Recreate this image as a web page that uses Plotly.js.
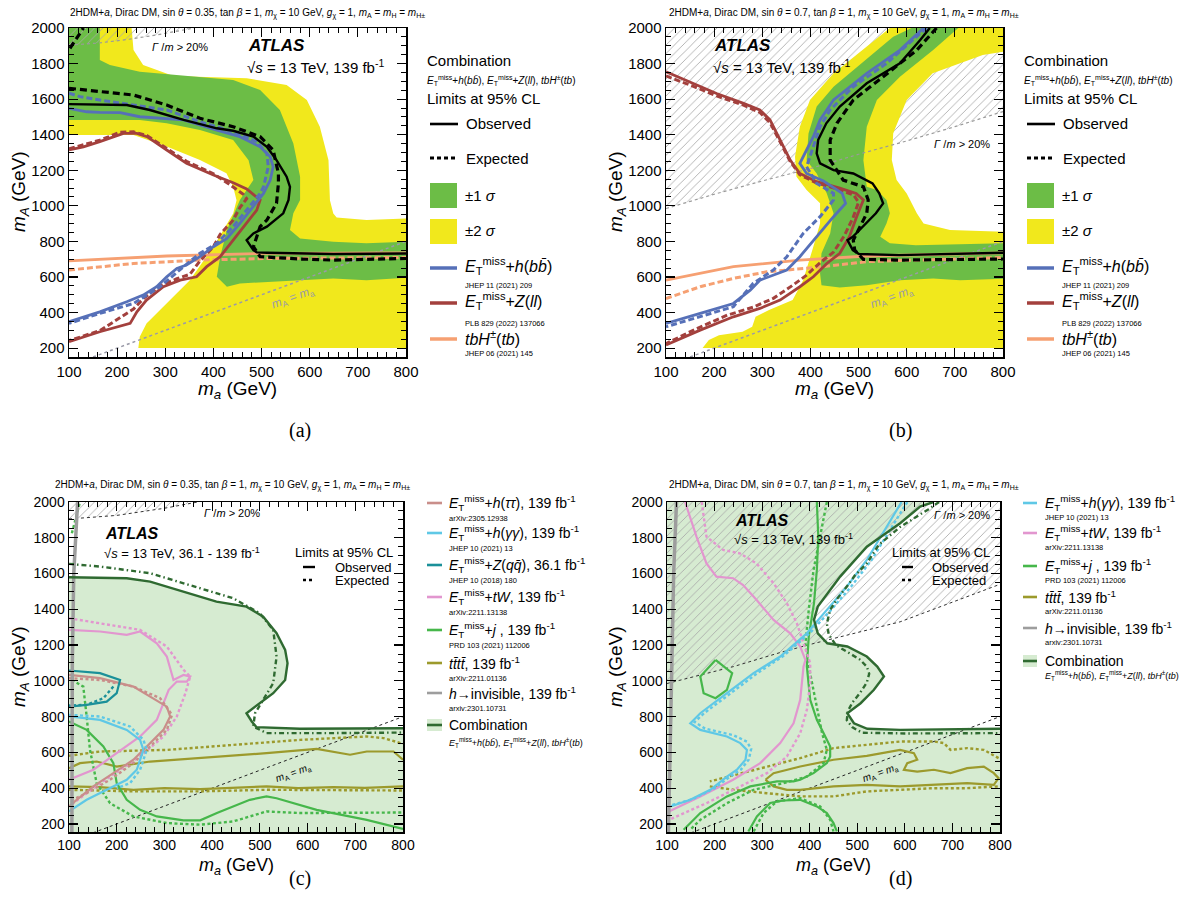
<!DOCTYPE html>
<html><head><meta charset="utf-8">
<script src="https://cdn.plot.ly/plotly-3.0.1.min.js"></script>
<style>html,body{margin:0;padding:0;background:#fff}#chart{width:1199px;height:914px}</style>
</head><body><div id="chart"></div>
<script>
// ---------------- DATA (m_a, m_A in GeV) ----------------
// Panel (a): sin theta = 0.35
const aBand2Ma=[100,230,234,254,317,469,552,594,621,639,642,649,656,718,800,800,244,247,261,289,351,400,441,448,441,427,372,303,234,100];
const aBand2MA=[2000,2000,1876,1792,1730,1717,1680,1595,1445,1257,1032,957,935,920,929,200,200,264,339,414,582,770,957,1032,1108,1183,1258,1333,1398,1398];
const aBand1Ma=[100,164,164,185,247,372,441,497,538,566,580,580,566,559,580,649,718,800,800,718,649,580,455,428,407,414,428,455,483,473,441,372,303,247,100];
const aBand1MA=[2000,2000,1820,1792,1754,1726,1707,1651,1539,1351,1164,1033,958,864,817,798,789,798,595,582,592,582,564,545,601,714,864,1033,1145,1257,1370,1426,1464,1483,1483];
const aWidthMa=[100,160,220,280,340,360,100];
const aWidthMA=[1904,1915,1935,1960,1990,2000,2000];
const aObsMa=[100,220,268,338,407,441,483,511,531,552,559,556,545,511,483,469,483,490,511,649,800];
const aObsMA=[1572,1567,1539,1483,1436,1422,1389,1332,1257,1164,1107,1033,958,883,845,807,751,738,736,729,732];
const aExpMa=[100,164,234,303,372,441,497,524,535,535,531,511,497,483,497,580,649,800];
const aExpMA=[1661,1642,1623,1567,1492,1445,1389,1314,1182,1126,1014,920,883,770,714,701,695,704];
const aExpTopMa=[102,130], aExpTopMA=[1886,2000];
const aBbObsMa=[100,137,164,206,247,338,407,455,497,518,524,518,504,483,455,428,400,372,344,324,303,282,254,220,164,100];
const aBbObsMA=[1548,1529,1526,1524,1501,1483,1426,1389,1332,1276,1220,1145,1070,995,901,817,770,714,667,648,601,545,498,461,404,348];
const aBbExpMa=[100,123,164,234,303,372,441,490,511,514,504,497,469,441,407,372,338,289,234,164,100];
const aBbExpMA=[1633,1614,1595,1567,1539,1473,1417,1361,1295,1220,1107,1070,976,883,789,733,658,545,451,395,339];
const aZllObsMa=[100,130,164,213,241,262,303,344,400,441,469,497,490,462,441,414,386,365,331,296,261,241,227,164,100];
const aZllObsMA=[1314,1332,1361,1407,1407,1389,1314,1239,1173,1130,1095,1033,976,883,807,714,658,601,582,545,470,404,339,292,236];
const aZllExpMa=[100,164,206,234,262,303,344,400,434,462,469,455,441,414,400,372,351,324,289,255,234,164,100];
const aZllExpMA=[1321,1369,1414,1416,1395,1322,1250,1180,1120,1065,1040,990,920,840,770,690,615,590,550,480,420,298,242];
const aTbObsMa=[100,303,511,800], aTbObsMA=[691,718,733,736];
const aTbExpMa=[100,234,372,511,800], aTbExpMA=[639,676,695,704,710];
const diagMa=[150,800], diagMA=[150,800];

// Panel (b): sin theta = 0.7
const bBand2Ma=[565,800,800,758,654,600,572,569,579,600,621,635,690,800,800,176,189,210,259,279,286,314,363,385,406,420,420,392,371,368,378,399,448,517,565];
const bBand2MA=[2000,2000,1867,1848,1745,1595,1408,1258,1145,1070,958,901,864,854,200,200,245,273,292,320,376,414,470,582,770,901,1014,1089,1164,1276,1445,1595,1745,1895,2000];
const bBand1Ma=[610,707,655,586,538,517,510,517,538,558,565,558,545,565,619,800,800,711,655,586,517,461,423,420,423,441,448,434,413,392,396,413,448,517,572,610];
const bBand1MA=[2000,2000,1876,1726,1595,1445,1257,1107,1089,1033,958,901,826,789,779,790,590,582,592,582,554,541,554,620,733,845,958,1070,1182,1257,1407,1558,1670,1829,1951,2000];
const bWidthMa=[100,200,300,400,500,600,700,800];
const bWidthMA=[985,1065,1140,1210,1290,1365,1445,1530];
const bObsMa=[648,628,586,517,461,433,416,413,420,448,489,517,529,543,551,536,508,488,477,488,501,584,800];
const bObsMA=[2000,1933,1801,1689,1558,1464,1370,1295,1239,1201,1182,1145,1126,1070,1014,958,883,826,807,751,729,723,736];
const bExpMa=[662,621,551,489,455,441,441,468,510,520,517,503,489,492,510,586,800];
const bExpMA=[2000,1876,1726,1595,1464,1370,1257,1145,1107,1033,958,883,807,751,699,695,701];
const bBbObsMa=[635,586,517,448,420,406,392,378,392,427,466,473,448,413,378,351,295,275,240,171,100];
const bBbObsMA=[2000,1876,1745,1595,1483,1389,1314,1239,1182,1140,1070,1014,939,826,714,639,582,526,451,395,339];
const bBbExpMa=[642,628,558,489,441,420,406,392,413,448,448,420,385,351,323,281,240,171,100];
const bBbExpMA=[2000,1970,1801,1670,1539,1445,1333,1220,1126,1070,1033,939,845,714,639,564,433,376,320];
const bZllObsMa=[100,157,205,261,295,316,337,358,378,413,461,495,510,496,481,461,434,406,378,337,295,240,171,100];
const bZllObsMA=[1754,1689,1632,1576,1539,1483,1370,1257,1182,1136,1100,1070,1033,939,826,733,676,601,545,470,423,376,301,217];
const bZllExpMa=[100,157,205,261,295,316,337,358,378,413,455,490,500,488,470,448,420,392,364,323,281,227,164,100];
const bZllExpMA=[1730,1672,1618,1566,1525,1468,1360,1250,1175,1128,1095,1060,1020,930,830,740,680,610,555,480,430,385,310,225];
const bTbObsMa=[100,171,240,378,517,800], bTbObsMA=[582,620,658,695,718,736];
const bTbExpMa=[100,171,240,309,413,517,800], bTbExpMA=[479,545,592,629,654,686,710];

// Panel (c): sin theta = 0.35, other searches
const cObsMa=[100,221,270,340,409,472,507,535,553,558,553,528,500,472,483,493,584,800];
const cObsMA=[1579,1574,1555,1499,1443,1415,1359,1266,1173,1099,1005,931,875,819,773,741,732,735];
const cExpMa=[100,165,270,375,444,500,528,535,528,507,490,486,514,654,800];
const cExpMA=[1654,1639,1602,1518,1462,1378,1285,1136,987,894,819,745,708,708,711];
const cWidthMa=[100,200,300,370,100], cWidthMA=[1905,1925,1965,2000,2000];
const cHinvMa=[118,110,107,106], cHinvMA=[2000,1600,1100,155];
const cTauObsMa=[100,165,235,270,305,312,298,263,235,193,151,116,100];
const cTauObsMA=[1033,1015,968,912,856,801,726,633,559,484,410,335,298];
const cTauExpMa=[100,165,235,291,316,305,270,235,186,137,100];
const cTauExpMA=[1015,1005,968,903,810,726,633,540,447,372,326];
const cGamObsMa=[100,165,221,249,256,242,221,193,165,137,100];
const cGamObsMA=[801,782,726,670,614,503,447,410,372,335,270];
const cGamExpMa=[100,165,228,256,263,249,228,200];
const cGamExpMA=[810,801,745,670,614,503,428,400];
const cZqqObsMa=[100,165,207,200,179,137,100];
const cZqqObsMA=[1058,1043,1005,931,884,866,856];
const cZqqExpMa=[193,172,137,100], cZqqExpMA=[968,903,866,862];
const cTwObsMa=[100,165,221,249,284,305,319,340,354,347,326,309,298,284,249,200,151,100];
const cTwObsMA=[1285,1276,1257,1276,1210,1136,1005,1033,1024,996,996,950,875,782,689,596,503,447];
const cTwExpMa=[100,165,249,305,340,354,344,326,298,249,186,137,100];
const cTwExpMA=[1350,1322,1285,1192,1062,1024,931,801,689,577,465,372,298];
const cJetObsMa=[100,137,172,193,200,221,249,284,340,375,410,479,514,535,619,724,800];
const cJetObsMA=[773,726,633,540,428,335,279,242,220,220,261,335,354,344,279,223,172];
const cJetExpMa=[106,130,137,144,158,186,235,305,375,444,514,584,800];
const cJetExpMA=[1005,968,801,614,428,316,242,205,196,214,270,261,264];
const cJetExpTopMa=[106,123], cJetExpTopMA=[1825,2000];
const cTtUpObsMa=[100,123,158,200,270,375,514,619,689,724,780,800];
const cTtUpObsMA=[512,540,549,521,549,568,596,620,587,605,605,559];
const cTtLoObsMa=[100,165,235,300,375,450,514,580,654,720,800];
const cTtLoObsMA=[410,406,391,400,395,405,410,400,406,402,410];
const cTtUpExpMa=[100,165,305,444,584,724,759,800];
const cTtUpExpMA=[581,605,614,642,670,689,680,648];
const cTtLoExpMa=[100,235,375,514,800], cTtLoExpMA=[391,382,382,391,387];

// Panel (d): sin theta = 0.7, other searches
const dObsMa=[660,632,590,520,464,437,417,409,417,437,479,520,542,556,535,507,479,493,521,590,800];
const dObsMA=[2000,1974,1881,1750,1583,1490,1415,1341,1266,1210,1192,1136,1080,1024,950,875,819,763,732,726,732];
const dExpMa=[672,650,590,545,520,495,478,458,443,436,440,455,480,505,520,525,520,505,490,480,478,490,510,600,800];
const dExpMA=[2000,1960,1860,1760,1657,1590,1527,1460,1397,1320,1260,1200,1160,1120,1080,1040,990,930,880,830,780,740,710,706,708];
const dWidthMa=[100,240,340,410,590,800], dWidthMA=[985,1080,1160,1210,1330,1540];
const dHinvMa=[120,114,110,103], dHinvMA=[2000,1600,1062,155];
const dTwObsMa=[138,162,183,204,239,260,288,324,359,380,391,387,380,366,338,296,239,170,104];
const dTwObsMA=[2000,1806,1657,1583,1574,1536,1453,1341,1266,1192,1117,1080,894,763,652,540,447,354,270];
const dTwExpMa=[173,183,218,253,288,324,352,373,387,401,401,394,380,352,310,253,183,104];
const dTwExpMA=[2000,1806,1732,1713,1657,1546,1434,1322,1210,1099,987,838,707,577,484,410,316,223];
const dGamObsMa=[593,562,520,478,436,394,338,282,226,170,149,170,226,254,268,265,247,226,191,149,107];
const dGamObsMA=[2000,1862,1676,1527,1397,1266,1136,1043,931,819,763,726,689,652,614,559,503,465,391,335,298];
const dGamExpMa=[605,572,530,487,445,400,345,290,233,178,158,180,240,268,277,272,255,230,200,155,110];
const dGamExpMA=[2000,1860,1676,1527,1397,1266,1140,1043,931,819,770,733,696,660,620,560,503,460,400,340,305];
const dJetObsMa=[415,418,415,409,398,394,401,415,429,443,443,436,408,380,366,331,275,226,170,135];
const dJetObsMA=[2000,1806,1620,1434,1248,1080,894,782,708,633,577,540,484,447,438,438,410,354,261,168];
const dJetExpMa=[436,422,408,398,391,398,412,426,436,429,394,345,282,226,170,149];
const dJetExpMA=[2000,1806,1620,1397,1210,1080,894,708,614,540,465,428,391,316,223,168];
const dJetLoopMa=[202,237,226,202,177,170,202], dJetLoopMA=[1117,1043,950,903,931,1024,1117];
const dJetArchObsMa=[271,289,317,345,380,415,436,450,457], dJetArchObsMA=[158,242,317,331,335,298,261,205,158];
const dJetArchExpMa=[282,303,331,380,422,443,450], dJetArchExpMA=[158,261,326,344,298,223,158];
const dTtObsMa=[307,324,380,450,520,590,619,626,605,598,626,661,696,731,766,787,797,787,731,661,590,520,450,380,352,324,307];
const dTtObsMA=[447,484,521,559,581,614,596,559,540,503,493,503,484,512,521,484,456,419,428,419,410,419,410,391,391,410,447];
const dTtExpUpMa=[797,766,731,696,682,661,590,520,450,380,310,240,190];
const dTtExpUpMA=[568,614,624,614,652,661,661,642,624,568,521,475,438];
const dTtExpLoMa=[190,240,310,380,450,520,590,661,731,797];
const dTtExpLoMA=[410,391,372,354,354,382,391,400,400,410];

// Legend / text labels
const refsAB=['JHEP 11 (2021) 209','PLB 829 (2022) 137066','JHEP 06 (2021) 145'];
const labelsC=['<i>E</i><sub>T</sub><sup>miss</sup>+<i>h</i>(<i>ττ</i>), 139 fb<sup>-1</sup>','<i>E</i><sub>T</sub><sup>miss</sup>+<i>h</i>(<i>γγ</i>), 139 fb<sup>-1</sup>','<i>E</i><sub>T</sub><sup>miss</sup>+<i>Z</i>(<i>qq̄</i>), 36.1 fb<sup>-1</sup>','<i>E</i><sub>T</sub><sup>miss</sup>+<i>tW</i>, 139 fb<sup>-1</sup>','<i>E</i><sub>T</sub><sup>miss</sup>+<i>j</i> , 139 fb<sup>-1</sup>','<i>tt̄tt̄</i>, 139 fb<sup>-1</sup>','<i>h</i>→invisible, 139 fb<sup>-1</sup>'];
const refsC=['arXiv:2305.12938','JHEP 10 (2021) 13','JHEP 10 (2018) 180','arXiv:2211.13138','PRD 103 (2021) 112006','arXiv:2211.01136','arxiv:2301.10731'];
const labelsD=[labelsC[1],labelsC[3],labelsC[4],labelsC[5],labelsC[6]];
const refsD=[refsC[1],refsC[3],refsC[4],refsC[5],refsC[6]];

// ---------------- STYLE ----------------
const W=1199,H=914;
const FONT='Liberation Sans, Arial, sans-serif';
const C={yel:'#f1e81c',grn:'#6cbd46',blue:'#5670b8',red:'#a3403d',org:'#f6a072',
  tau:'#c98e8a',gam:'#5fc8e6',zqq:'#1b9099',tw:'#e296cf',jet:'#46b74b',tt:'#9c9a2c',hinv:'#9d9d9d',comb:'#2f6a31',combFill:'#d6ebd1'};
const colorsC=[C.tau,C.gam,C.zqq,C.tw,C.jet,C.tt,C.hinv];
const colorsD=[C.gam,C.tw,C.jet,C.tt,C.hinv];
const px=x=>x/W, py=y=>1-y/H;
const yLo={1:150,2:150,3:155,4:155};

const traces=[];
const axn=i=>i===1?'':String(i);
function ln(i,xs,ys,color,width,dash){traces.push({type:'scatter',mode:'lines',x:xs,y:ys,xaxis:'x'+axn(i),yaxis:'y'+axn(i),line:{color:color,width:width,dash:dash||'solid'},hoverinfo:'skip',showlegend:false});}
function poly(i,xs,ys,color){traces.push({type:'scatter',mode:'lines',x:xs,y:ys,xaxis:'x'+axn(i),yaxis:'y'+axn(i),fill:'toself',fillcolor:color,line:{width:0},hoverinfo:'skip',showlegend:false});}
function hatch(i,xs,ys){traces.push({type:'scatter',mode:'lines',x:xs,y:ys,xaxis:'x'+axn(i),yaxis:'y'+axn(i),fill:'toself',fillcolor:'rgba(0,0,0,0)',fillpattern:{shape:'/',fgcolor:'#a8a8a8',bgcolor:'rgba(0,0,0,0)',size:6,solidity:0.14},line:{width:0},hoverinfo:'skip',showlegend:false});}

const DASH_BIG='7px,4px', DASH_MED='6px,3px', DASH_S='3px,2.5px', DASHDOT='5px,3px,1.5px,3px';

// Panel a
poly(1,aBand2Ma,aBand2MA,C.yel);
poly(1,aBand1Ma,aBand1MA,C.grn);
hatch(1,aWidthMa,aWidthMA);
ln(1,aWidthMa.slice(0,6),aWidthMA.slice(0,6),'#9a9a9a',1.2,'dot');
ln(1,diagMa,diagMA,'#9a9aa8',1.5,'dot');
ln(1,aTbObsMa,aTbObsMA,C.org,2.8);
ln(1,aTbExpMa,aTbExpMA,C.org,3,DASH_MED);
ln(1,aZllExpMa,aZllExpMA,C.red,3,DASH_MED);
ln(1,aZllObsMa,aZllObsMA,C.red,2.8);
ln(1,aBbExpMa,aBbExpMA,C.blue,3,DASH_MED);
ln(1,aBbObsMa,aBbObsMA,C.blue,2.8);
ln(1,aExpMa,aExpMA,'#000',3.2,DASH_BIG);
ln(1,aExpTopMa,aExpTopMA,'#000',3.2,DASH_BIG);
ln(1,aObsMa,aObsMA,'#000',2.4);

// Panel b
hatch(2,bWidthMa.concat([800,100]),bWidthMA.concat([2000,2000]));
poly(2,bBand2Ma,bBand2MA,C.yel);
poly(2,bBand1Ma,bBand1MA,C.grn);
ln(2,bWidthMa,bWidthMA,'#9a9a9a',1.2,'dot');
ln(2,diagMa,diagMA,'#9a9aa8',1.5,'dot');
ln(2,bTbObsMa,bTbObsMA,C.org,2.8);
ln(2,bTbExpMa,bTbExpMA,C.org,3,DASH_MED);
ln(2,bZllExpMa,bZllExpMA,C.red,3,DASH_MED);
ln(2,bZllObsMa,bZllObsMA,C.red,2.8);
ln(2,bBbExpMa,bBbExpMA,C.blue,3,DASH_MED);
ln(2,bBbObsMa,bBbObsMA,C.blue,2.8);
ln(2,bExpMa,bExpMA,'#000',3.2,DASH_BIG);
ln(2,bObsMa,bObsMA,'#000',2.4);

// Panel c
poly(3,cObsMa.concat([800,100]),cObsMA.concat([yLo[3],yLo[3]]),C.combFill);
hatch(3,cWidthMa,cWidthMA);
ln(3,cWidthMa.slice(0,4),cWidthMA.slice(0,4),'#333',1,'dot');
ln(3,diagMa,diagMA,'#222',1,'dot');
ln(3,cTtUpExpMa,cTtUpExpMA,C.tt,2.4,DASH_S);
ln(3,cTtLoExpMa,cTtLoExpMA,C.tt,2.4,DASH_S);
ln(3,cTtUpObsMa,cTtUpObsMA,C.tt,2.2);
ln(3,cTtLoObsMa,cTtLoObsMA,C.tt,2.2);
ln(3,cJetExpMa,cJetExpMA,C.jet,2.4,DASH_S);
ln(3,cJetExpTopMa,cJetExpTopMA,C.jet,2.4,DASH_S);
ln(3,cJetObsMa,cJetObsMA,C.jet,2.2);
ln(3,cTwExpMa,cTwExpMA,C.tw,2.4,DASH_S);
ln(3,cTwObsMa,cTwObsMA,C.tw,2.2);
ln(3,cTauExpMa,cTauExpMA,C.tau,2.4,DASH_S);
ln(3,cTauObsMa,cTauObsMA,C.tau,2.2);
ln(3,cGamExpMa,cGamExpMA,C.gam,2.4,DASH_S);
ln(3,cGamObsMa,cGamObsMA,C.gam,2.2);
ln(3,cZqqExpMa,cZqqExpMA,C.zqq,2.4,DASH_S);
ln(3,cZqqObsMa,cZqqObsMA,C.zqq,2.2);
ln(3,cHinvMa,cHinvMA,C.hinv,3.5);
ln(3,cExpMa,cExpMA,C.comb,2.4,DASHDOT);
ln(3,cObsMa,cObsMA,C.comb,2.4);

// Panel d
poly(4,[100].concat(dObsMa,[800,100]),[2000].concat(dObsMA,[yLo[4],yLo[4]]),C.combFill);
hatch(4,dWidthMa.concat([800,100]),dWidthMA.concat([2000,2000]));
ln(4,dWidthMa,dWidthMA,'#333',1,'dot');
ln(4,diagMa,diagMA,'#222',1,'dot');
ln(4,dTtExpUpMa,dTtExpUpMA,C.tt,2.4,DASH_S);
ln(4,dTtExpLoMa,dTtExpLoMA,C.tt,2.4,DASH_S);
ln(4,dTtObsMa,dTtObsMA,C.tt,2.2);
ln(4,dJetExpMa,dJetExpMA,C.jet,2.4,DASH_S);
ln(4,dJetArchExpMa,dJetArchExpMA,C.jet,2.4,DASH_S);
ln(4,dJetObsMa,dJetObsMA,C.jet,2.2);
ln(4,dJetArchObsMa,dJetArchObsMA,C.jet,2.2);
ln(4,dJetLoopMa,dJetLoopMA,C.jet,2.2);
ln(4,dTwExpMa,dTwExpMA,C.tw,2.4,DASH_S);
ln(4,dTwObsMa,dTwObsMA,C.tw,2.2);
ln(4,dGamExpMa,dGamExpMA,C.gam,2.4,DASH_S);
ln(4,dGamObsMa,dGamObsMA,C.gam,2.2);
ln(4,dHinvMa,dHinvMA,C.hinv,3.5);
ln(4,dExpMa,dExpMA,C.comb,2.4,DASHDOT);
ln(4,dObsMa,dObsMA,C.comb,2.4);

// ---------------- LAYOUT ----------------
function xax(dom,anchor,fs){return {domain:dom,anchor:anchor,range:[100,800],showline:true,linecolor:'#000',linewidth:1.5,mirror:'allticks',ticks:'inside',ticklen:9,tickwidth:1.2,tickcolor:'#000',tick0:0,dtick:100,minor:{dtick:20,ticklen:5,tickwidth:1,ticks:'inside',tickcolor:'#000'},showgrid:false,zeroline:false,tickfont:{family:FONT,size:fs,color:'#000'},fixedrange:true};}
function yax(dom,anchor,lo,fs){return {domain:dom,anchor:anchor,range:[lo,2000],showline:true,linecolor:'#000',linewidth:1.5,mirror:'allticks',ticks:'inside',ticklen:9,tickwidth:1.2,tickcolor:'#000',tick0:0,dtick:200,minor:{dtick:50,ticklen:5,tickwidth:1,ticks:'inside',tickcolor:'#000'},showgrid:false,zeroline:false,tickfont:{family:FONT,size:fs,color:'#000'},fixedrange:true};}
const yAB=[1-357/H,1-28/H], yCD=[1-832/H,1-502/H];

const ann=[], shp=[];
function T(text,x,y,size,o){o=o||{};ann.push(Object.assign({text:text,x:px(x),y:py(y),xref:'paper',yref:'paper',showarrow:false,xanchor:'left',yanchor:'middle',font:{family:FONT,size:size,color:'#000'}},o));}
function TD(i,text,x,y,size,o){o=o||{};ann.push(Object.assign({text:text,x:x,y:y,xref:'x'+axn(i),yref:'y'+axn(i),showarrow:false,xanchor:'center',yanchor:'middle',font:{family:FONT,size:size,color:'#000'}},o));}
function L(x0,x1,y,color,width,dash){shp.push({type:'line',xref:'paper',yref:'paper',x0:px(x0),x1:px(x1),y0:py(y),y1:py(y),line:{color:color,width:width,dash:dash||'solid'}});}
function R(x0,x1,y0,y1,color){shp.push({type:'rect',xref:'paper',yref:'paper',x0:px(x0),x1:px(x1),y0:py(y1),y1:py(y0),fillcolor:color,line:{width:0}});}

const ET='<i>E</i><sub>T</sub><sup>miss</sup>';
const combSub=ET+'+<i>h</i>(<i>bb̄</i>), '+ET+'+<i>Z</i>(<i>ll</i>), <i>tbH</i><sup>±</sup>(<i>tb</i>)';
function hdr(sin){return '2HDM+<i>a</i>, Dirac DM, sin <i>θ</i> = '+sin+', tan <i>β</i> = 1, <i>m</i><sub>χ</sub> = 10 GeV, <i>g</i><sub>χ</sub> = 1, <i>m</i><sub>A</sub> = <i>m</i><sub>H</sub> = <i>m</i><sub>H±</sub>';}

// headers
T(hdr('0.35'),68,13,10); T(hdr('0.7'),667,13,10);
T(hdr('0.35'),53,485,10); T(hdr('0.7'),667,485,10);
// captions
[['(a)',300,430],['(b)',900,430],['(c)',300,878],['(d)',900,878]].forEach(c=>T(c[0],c[1],c[2],20,{xanchor:'center',font:{family:'Liberation Serif, Times New Roman, serif',size:20,color:'#000'}}));
// axis titles
[[237,390],[834,390]].forEach(p=>T('<i>m<sub>a</sub></i> (GeV)',p[0],p[1],19,{xanchor:'center'}));
[[236,866],[833,866]].forEach(p=>T('<i>m<sub>a</sub></i> (GeV)',p[0],p[1],18,{xanchor:'center'}));
[[20,192],[617,192],[20,667],[617,667]].forEach(p=>T('<i>m<sub>A</sub></i> (GeV)',p[0],p[1],19,{xanchor:'center',textangle:-90}));

// ATLAS labels
T('<b><i>ATLAS</i></b>',246,45,17); T('√<i>s</i> = 13 TeV, 139 fb<sup>-1</sup>',245,66,15);
T('<b><i>ATLAS</i></b>',712,45,17); T('√<i>s</i> = 13 TeV, 139 fb<sup>-1</sup>',711,66,15);
T('<b><i>ATLAS</i></b>',103,533,16); T('√<i>s</i> = 13 TeV, 36.1 - 139 fb<sup>-1</sup>',102,553,13);
T('<b><i>ATLAS</i></b>',733,520,16); T('√<i>s</i> = 13 TeV, 139 fb<sup>-1</sup>',732,539,13);
// width labels
T('<i>Γ</i> /<i>m</i> > 20%',150,47,11);
TD(2,'<i>Γ</i> /<i>m</i> > 20%',715,1350,11);
TD(3,'<i>Γ</i> /<i>m</i> > 20%',441,1937,11);
TD(4,'<i>Γ</i> /<i>m</i> > 20%',720,1927,11);
// diagonal labels
TD(1,'<i>m</i><sub>A</sub> = <i>m</i><sub>a</sub>',566,479,12,{textangle:-20,font:{family:FONT,size:12,color:'#9a9aa8'}});
TD(2,'<i>m</i><sub>A</sub> = <i>m</i><sub>a</sub>',569,479,12,{textangle:-20,font:{family:FONT,size:12,color:'#9a9aa8'}});
TD(3,'<i>m</i><sub>A</sub> = <i>m</i><sub>a</sub>',570,484,10,{textangle:-20});
TD(4,'<i>m</i><sub>A</sub> = <i>m</i><sub>a</sub>',548,484,10,{textangle:-20});

// legends a/b
[0,597].forEach(dx=>{
  T('Combination',425+dx,61,15);
  T(combSub,425+dx,80,10);
  T('Limits at 95% CL',425+dx,98,15);
  L(430+dx,458+dx,124,'#000',2.6); T('Observed',464+dx,124,15);
  L(430+dx,458+dx,158,'#000',3,'4px,3px'); T('Expected',464+dx,158,15);
  R(430+dx,457+dx,183,208,C.grn); T('±1 <i>σ</i>',463+dx,196,15);
  R(430+dx,457+dx,219,244,C.yel); T('±2 <i>σ</i>',463+dx,231,15);
  L(430+dx,457+dx,268,C.blue,3.5); T(ET+'+<i>h</i>(<i>bb̄</i>)',463+dx,266,16); T(refsAB[0],463+dx,286,7.5);
  L(430+dx,457+dx,303,C.red,3.5); T(ET+'+<i>Z</i>(<i>ll</i>)',463+dx,301,16); T(refsAB[1],463+dx,323,7.5);
  L(430+dx,457+dx,339,C.org,3.5); T('<i>tbH</i><sup>±</sup>(<i>tb</i>)',463+dx,338,16); T(refsAB[2],463+dx,354,7.5);
});
// legend c
const yC=[503,533,565,597,630,663,693];
labelsC.forEach((t,k)=>{L(427,442,yC[k],colorsC[k],2.6); T(t,447,yC[k],14); T(refsC[k],447,yC[k]+15,7.5);});
R(427,442,719,731,C.combFill); L(427,442,725,C.comb,2.6); T('Combination',447,725,14); T(combSub,447,742,9);
// legend d
const yD=[503,533,566,597,628];
labelsD.forEach((t,k)=>{L(1023,1037,yD[k],colorsD[k],2.6); T(t,1043,yD[k],14); T(refsD[k],1043,yD[k]+14,7.5);});
R(1023,1037,655,667,C.combFill); L(1023,1037,661,C.comb,2.6); T('Combination',1043,661,14); T(combSub,1043,675,9);
// in-panel CL legends c/d
T('Limits at 95% CL',293,552,13); L(303,315,567,'#000',2.4); T('Observed',333,567,13); L(303,315,580,'#000',2.4,'3px,3px'); T('Expected',333,580,13);
T('Limits at 95% CL',890,552,13); L(902,913,567,'#000',2.4); T('Observed',930,567,13); L(902,913,580,'#000',2.4,'3px,3px'); T('Expected',930,580,13);

const layout={width:W,height:H,margin:{l:0,r:0,t:0,b:0},paper_bgcolor:'#fff',plot_bgcolor:'#fff',showlegend:false,
  font:{family:FONT,color:'#000'},
  xaxis:xax([69/W,406/W],'y',15), yaxis:yax(yAB,'x',yLo[1],15),
  xaxis2:xax([666/W,1003/W],'y2',15), yaxis2:yax(yAB,'x2',yLo[2],15),
  xaxis3:xax([69/W,403/W],'y3',14), yaxis3:yax(yCD,'x3',yLo[3],14),
  xaxis4:xax([667/W,1000/W],'y4',14), yaxis4:yax(yCD,'x4',yLo[4],14),
  annotations:ann, shapes:shp};
Plotly.newPlot('chart',traces,layout,{staticPlot:true,displayModeBar:false});
</script></body></html>
